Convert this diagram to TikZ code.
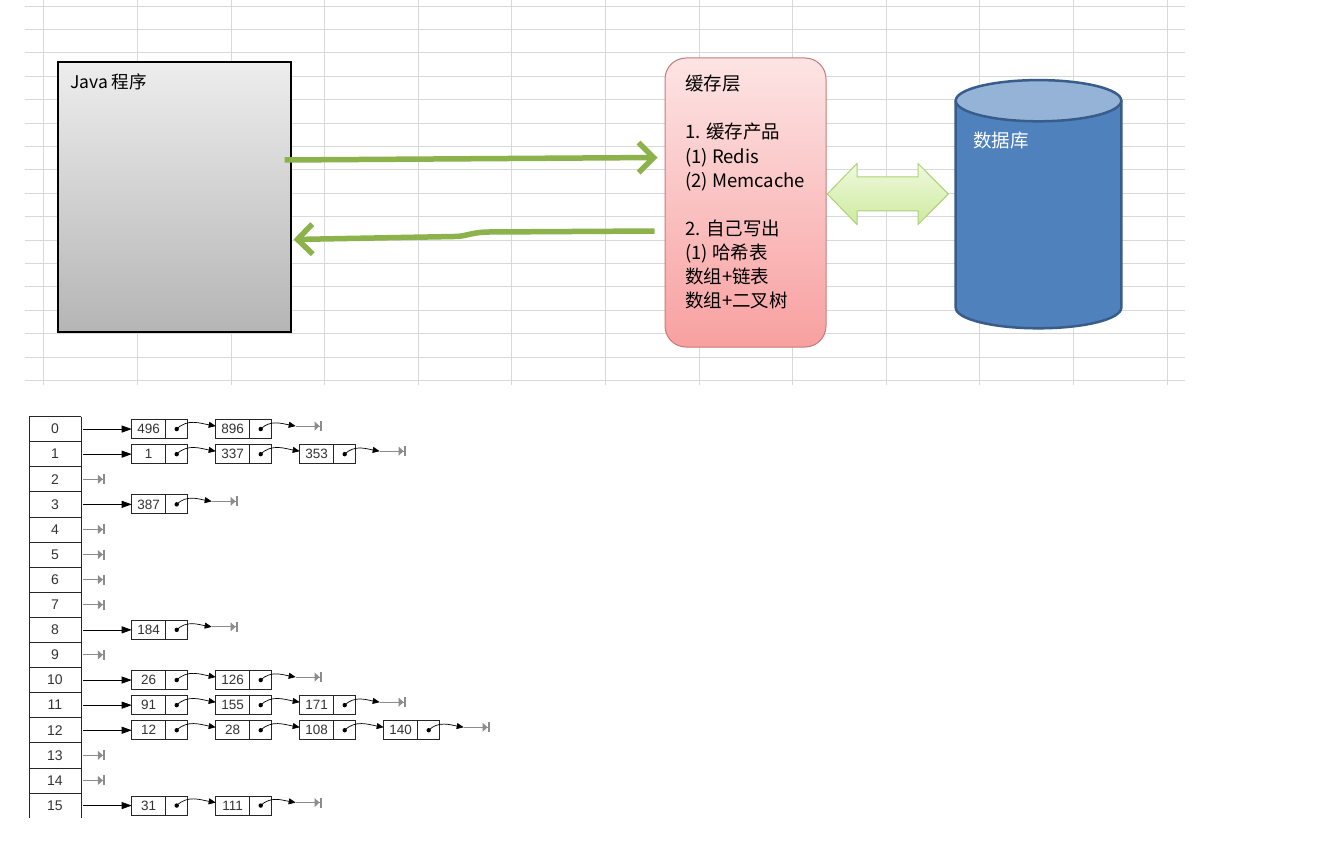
\documentclass[tikz,border=0pt]{standalone}
\usepackage{fontspec}
\newfontfamily\cjk{Noto Sans CJK SC}
\newfontfamily\tabfont{Liberation Sans}
\usepackage{tikz}
\usetikzlibrary{arrows.meta, positioning, calc}
\definecolor{gridgray}{HTML}{D9D9D9}
\definecolor{flowgreen}{RGB}{140,178,76}
\definecolor{cacheedge}{RGB}{205,120,120}
\definecolor{cachetop}{RGB}{253,228,228}
\definecolor{cachebot}{RGB}{248,160,160}
\definecolor{syncedge}{RGB}{172,210,120}
\definecolor{synctop}{RGB}{240,249,222}
\definecolor{syncbot}{RGB}{205,234,158}
\definecolor{dbbody}{RGB}{79,129,189}
\definecolor{dbtop}{RGB}{149,179,215}
\definecolor{dbedge}{RGB}{56,93,138}
\colorlet{nullgray}{black!45}
\tikzset{
  sheetline/.style={draw=gridgray, line width=0.8pt},
  javabox/.style={draw=black, line width=1.2pt, top color=black!7, bottom color=black!29,
    minimum width=233pt, minimum height=270pt, inner sep=0pt},
  cachebox/.style={draw=cacheedge, line width=1pt, rounded corners=21pt, top color=cachetop,
    bottom color=cachebot, minimum width=161pt, minimum height=289pt, inner sep=0pt},
  syncarrow/.style={draw=syncedge, line width=1pt, top color=synctop, bottom color=syncbot},
  flow/.style={draw=flowgreen, line width=5.5pt, -{Straight Barb[length=15pt,width=30pt]}},
  bigtext/.style={font=\cjk\fontsize{18.5}{24.1}\selectfont, inner sep=0pt, align=left},
  hcell/.style={minimum width=52pt, minimum height=25.1pt, inner sep=0pt, outer sep=0pt,
    text=black!80, font=\tabfont\fontsize{14}{14}\selectfont},
  cellline/.style={draw=black!85, line width=0.8pt},
  valbox/.style={draw=black!85, line width=0.8pt, minimum width=34pt, minimum height=19pt,
    inner sep=0pt, outer sep=0pt, text=black!80, font=\tabfont\fontsize{13.5}{14}\selectfont},
  ptrbox/.style={draw=black!85, line width=0.8pt, minimum width=22pt, minimum height=19pt,
    inner sep=0pt, outer sep=0pt},
  rowarrow/.style={-{Triangle[length=10pt,width=7pt]}, line width=0.7pt},
  nextptr/.style={-{Triangle[length=7pt,width=6pt]}, line width=0.7pt},
  nullptr/.style={draw=nullgray, line width=1pt,
    -{Triangle[length=5pt,width=9pt]Bar[width=10pt,line width=2.2pt]}}
}

\begin{document}
\begin{tikzpicture}[x=1pt, y=1pt]
  \useasboundingbox (0,0) rectangle (1324,-842);
  \fill[white] (0,0) rectangle (1324,-842);

  % spreadsheet grid behind the top part
  \foreach \k in {0,...,16} { \draw[sheetline] (25,{-6-23.4*\k}) -- (1185,{-6-23.4*\k}); }
  \foreach \k in {0,...,12} { \draw[sheetline] ({43.7+93.6*\k},0) -- ({43.7+93.6*\k},-385); }

  \node[javabox] (java) at (174.5,-197) {};
  \node[bigtext, font=\cjk\fontsize{17.5}{20}\selectfont, anchor=north west] (javatitle) at (70,-74) {Java 程序};

  \node[cachebox] (cache) at (745.5,-202.5) {};
  \node[bigtext, anchor=north west] (cachetxt) at (685,-75)
    {缓存层\\[24.1pt]1. 缓存产品\\(1) Redis\\(2) Memcache\\[24.1pt]2. 自己写出\\(1) 哈希表\\数组+链表\\数组+二叉树};

  % two-way block arrow
  \path[syncarrow] (827.3,-194) -- (857,-163.5) -- (857,-177) -- (918,-177) -- (918,-163.5)
    -- (948.3,-194) -- (918,-224.5) -- (918,-211) -- (857,-211) -- (857,-224.5) -- cycle;

  % database
  \fill[dbbody] (955.7,-100.7) -- (955.7,-307.7)
    arc[start angle=180, end angle=360, x radius=82.8, y radius=20.6] -- (1121.3,-100.7) -- cycle;
  \draw[dbedge, line width=2.5pt] (955.7,-100.7) -- (955.7,-307.7)
    arc[start angle=180, end angle=360, x radius=82.8, y radius=20.6] -- (1121.3,-100.7);
  \filldraw[fill=dbtop, draw=dbedge, line width=2.5pt] (1038.5,-100.7) ellipse[x radius=82.8, y radius=20.6];
  \node[bigtext, text=white, anchor=north west] (dblabel) at (973,-131.5) {数据库};

  % request and answer
  \draw[flow] ($(java.east)+(-7,37)$) -- ($(cache.west)+(-7,45)$);
  \coordinate (back) at ($(cache.west)+(-10,-28.5)$);
  \coordinate (backend) at ($(java.east)+(2,-42.5)$);
  \draw[flow] (back) -- ++(-165,-1) .. controls +(-18,0) and +(12,0) .. ++(-35,-4.5) -- (backend);

  % hash table: array of buckets
  \foreach \r in {0,...,15} {
    \node[hcell] (h\r) at (55,{-(429.05+25.1*\r)}) {\r};
    \draw[cellline] (h\r.north west) -- (h\r.north east);
  }
  \draw[cellline] (h0.north west) -- (h15.south west);
  \draw[cellline] (h0.north east) -- (h15.south east);

  \foreach \r in {2,4,5,6,7,9,13,14} {
    \coordinate (z\r) at ([xshift=24pt]h\r.east);
    \draw[nullptr] ([xshift=2pt]h\r.east) -- (z\r);
  }

  \foreach \r/\last/\vals in {0/1/{496,896}, 1/2/{1,337,353}, 3/0/{387}, 8/0/{184},
      10/1/{26,126}, 11/2/{91,155,171}, 12/3/{12,28,108,140}, 15/1/{31,111}} {
    \foreach \v [count=\i from 0, remember=\i as \j (initially 0)] in \vals {
      \node[valbox, anchor=west] (v\r-\i) at ({131.7+84*\i},{-(429.05+25.1*\r)}) {\v};
      \node[ptrbox, right=0pt of v\r-\i] (p\r-\i) {};
      \fill (p\r-\i.center) circle[radius=2.2pt];
      \ifnum\i>0
        \draw[nextptr] (p\r-\j.center) to[out=45,in=170] ([yshift=3pt]v\r-\i.west);
      \fi
    }
    \draw[rowarrow] ([xshift=2pt]h\r.east) -- (v\r-0.west);
    \coordinate (t\r) at ([xshift=24pt,yshift=3pt]p\r-\last.east);
    \coordinate (e\r) at ([xshift=26pt]t\r);
    \draw[nextptr] (p\r-\last.center) to[out=45,in=170] (t\r);
    \draw[nullptr] (t\r) -- (e\r);
  }
\end{tikzpicture}
\end{document}
